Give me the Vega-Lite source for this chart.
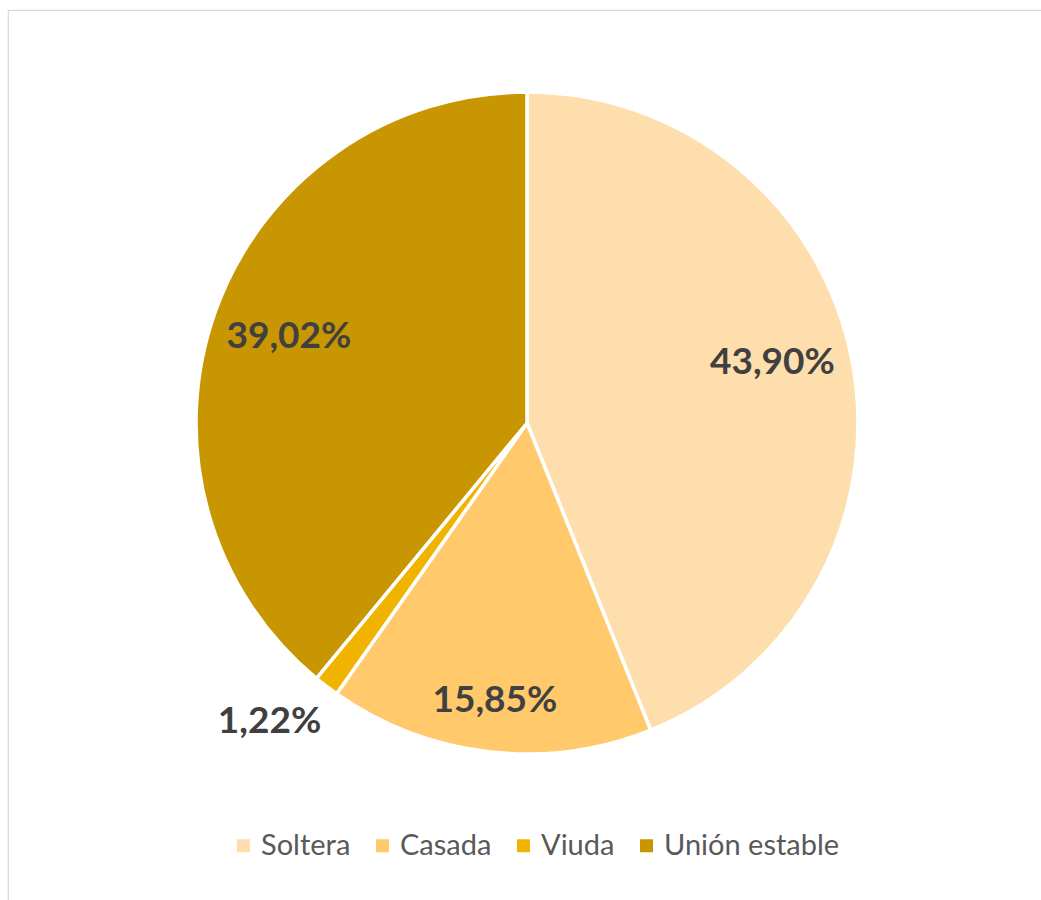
{
  "$schema": "https://vega.github.io/schema/vega-lite/v6.json",
  "width": 1033,
  "height": 890,
  "padding": {"top": 10, "left": 8, "right": 0, "bottom": 0},
  "autosize": {"type": "none"},
  "background": "white",
  "view": {"stroke": "#d9d9d9", "strokeWidth": 1.2, "fill": "white", "strokeDash": [1033, 1923, 891]},
  "data": {
    "values": [
      {"estado": "Soltera", "pct": 43.90, "label": "43,90%", "orden": 1},
      {"estado": "Casada", "pct": 15.85, "label": "15,85%", "orden": 2},
      {"estado": "Viuda", "pct": 1.22, "label": "1,22%", "orden": 3},
      {"estado": "Unión estable", "pct": 39.02, "label": "39,02%", "orden": 4}
    ]
  },
  "encoding": {
    "theta": {"field": "pct", "type": "quantitative", "stack": true},
    "order": {"field": "orden", "type": "quantitative"}
  },
  "layer": [
    {
      "mark": {"type": "arc", "outerRadius": 331, "stroke": "white", "strokeWidth": 3.5, "xOffset": 2.5, "yOffset": -32},
      "encoding": {
        "color": {
          "field": "estado",
          "type": "nominal",
          "sort": ["Soltera", "Casada", "Viuda", "Unión estable"],
          "scale": {
            "domain": ["Soltera", "Casada", "Viuda", "Unión estable"],
            "range": ["#FFDEAD", "#FFC96C", "#F0B400", "#C89600"]
          },
          "legend": {
            "orient": "none",
            "direction": "horizontal",
            "legendX": 221,
            "legendY": 821,
            "title": null,
            "symbolType": "square",
            "symbolSize": 169,
            "symbolStrokeWidth": 0,
            "labelFont": "Lato",
            "labelFontSize": 29,
            "labelColor": "#595959",
            "labelOffset": 3,
            "columnPadding": 17,
            "labelLimit": 400
          }
        }
      }
    },
    {
      "mark": {"type": "text", "radius": 250, "xOffset": 2.5, "yOffset": -32, "dy": -12, "font": "Lato", "fontWeight": "bold", "fontSize": 37, "fill": "#404040", "align": "center", "baseline": "middle"},
      "encoding": {
        "text": {"condition": {"test": "datum.estado !== 'Soltera'", "value": ""}, "field": "label", "type": "nominal"}
      }
    },
    {
      "mark": {"type": "text", "radius": 280, "xOffset": 2.5, "yOffset": -32, "font": "Lato", "fontWeight": "bold", "fontSize": 37, "fill": "#404040", "align": "center", "baseline": "middle"},
      "encoding": {
        "text": {"condition": {"test": "datum.estado !== 'Casada'", "value": ""}, "field": "label", "type": "nominal"}
      }
    },
    {
      "mark": {"type": "text", "radius": 253, "xOffset": 2.5, "yOffset": -32, "font": "Lato", "fontWeight": "bold", "fontSize": 37, "fill": "#404040", "align": "center", "baseline": "middle"},
      "encoding": {
        "text": {"condition": {"test": "datum.estado !== 'Unión estable'", "value": ""}, "field": "label", "type": "nominal"}
      }
    },
    {
      "mark": {"type": "text", "radius": 395, "xOffset": 2.5, "yOffset": -32, "dx": -18, "dy": -15, "font": "Lato", "fontWeight": "bold", "fontSize": 37, "fill": "#404040", "align": "center", "baseline": "middle"},
      "encoding": {
        "text": {"condition": {"test": "datum.estado !== 'Viuda'", "value": ""}, "field": "label", "type": "nominal"}
      }
    }
  ]
}
